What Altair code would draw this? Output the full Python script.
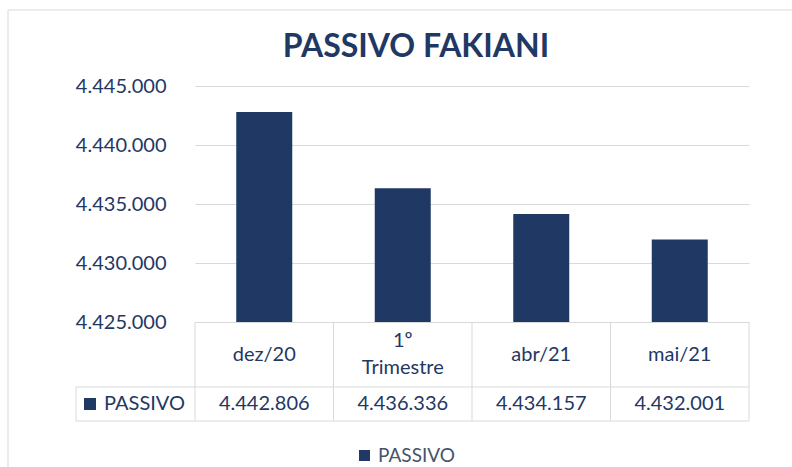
import altair as alt
import pandas as pd

# ---- data ----
categories = ["dez/20", "1º Trimestre", "abr/21", "mai/21"]
cat_labels = ["dez/20", "1º\nTrimestre", "abr/21", "mai/21"]
values = [4442806, 4436336, 4434157, 4432001]
series_name = "PASSIVO"
y_ticks = [4425000, 4430000, 4435000, 4440000, 4445000]
y_min, y_max = 4425000, 4445000


def br(n):
    return f"{n:,}".replace(",", ".")


df = pd.DataFrame({
    "cat": categories,
    "label": cat_labels,
    "value": values,
    "value_txt": [br(v) for v in values],
    "series": [series_name] * len(categories),
})
one = pd.DataFrame({"series": [series_name]})

# ---- layout / style ----
W, H = 554, 236
NAVY = "#1f3864"
GRID = "#d9d9d9"
FONT = "Lato"
ROW1_Y = H + 65     # bottom of category row
ROW2_Y = H + 99     # bottom of value row
HDR_X = -119        # left edge of row-header cell

xenc = alt.X("cat:N", sort=categories,
             scale=alt.Scale(paddingInner=0, paddingOuter=0), axis=None)

base = alt.Chart(df)

bars = base.mark_bar(size=56, color=NAVY).encode(
    x=xenc,
    y=alt.Y("value:Q",
            scale=alt.Scale(domain=[y_min, y_max], zero=False, nice=False),
            axis=alt.Axis(values=y_ticks,
                          labelExpr="replace(format(datum.value, ','), regexp(',', 'g'), '.')",
                          title=None, domain=False, ticks=False, grid=True,
                          gridColor=GRID, gridWidth=1, labelPadding=29,
                          labelFontSize=20, labelColor=NAVY, labelFont=FONT)),
    y2=alt.datum(y_min),
    color=alt.Color("series:N", scale=alt.Scale(range=[NAVY]),
                    legend=alt.Legend(orient="none", legendX=160, legendY=360,
                                      title=None, symbolType="square",
                                      symbolSize=121, symbolStrokeWidth=0,
                                      labelFontSize=19, labelColor="#44546a",
                                      labelFont=FONT, direction="horizontal")),
)

# table grid
vlines = base.mark_rule(color=GRID).encode(
    x=alt.X("cat:N", sort=categories, bandPosition=0, axis=None),
    y=alt.value(H), y2=alt.value(ROW2_Y))
vline_right = alt.Chart(one).mark_rule(color=GRID).encode(
    x=alt.value(W), y=alt.value(H), y2=alt.value(ROW2_Y))
vline_hdr = alt.Chart(one).mark_rule(color=GRID).encode(
    x=alt.value(HDR_X), y=alt.value(ROW1_Y), y2=alt.value(ROW2_Y))
hline1 = alt.Chart(one).mark_rule(color=GRID).encode(
    x=alt.value(HDR_X), x2=alt.value(W), y=alt.value(ROW1_Y))
hline2 = alt.Chart(one).mark_rule(color=GRID).encode(
    x=alt.value(HDR_X), x2=alt.value(W), y=alt.value(ROW2_Y))

# outer chart border (top and left)
border_top = alt.Chart(one).mark_rule(color=GRID).encode(
    x=alt.value(-187), x2=alt.value(W + 60), y=alt.value(-76))
border_left = alt.Chart(one).mark_rule(color=GRID).encode(
    x=alt.value(-187), y=alt.value(-76), y2=alt.value(H + 150))

# table text
txt = dict(font=FONT, fontSize=20, color=NAVY, baseline="middle")
cat_text1 = base.transform_filter("indexof(datum.label, '\\n') < 0").mark_text(**txt).encode(
    x=xenc, y=alt.value(H + 33), text="label:N")
cat_text2 = base.transform_filter("indexof(datum.label, '\\n') >= 0").mark_text(
    lineBreak="\n", lineHeight=27, **txt).encode(
    x=xenc, y=alt.value(H + 19), text="label:N")
val_text = base.mark_text(**txt).encode(
    x=xenc, y=alt.value(H + 82), text="value_txt:N")
hdr_sq = alt.Chart(one).mark_square(size=144, color=NAVY, opacity=1).encode(
    x=alt.value(-105), y=alt.value(H + 82))
hdr_text = alt.Chart(one).mark_text(align="left", **txt).encode(
    x=alt.value(-91), y=alt.value(H + 82), text="series:N")

chart = alt.layer(
    border_top, border_left, vlines, vline_right, vline_hdr, hline1, hline2,
    bars, cat_text1, cat_text2, val_text, hdr_sq, hdr_text,
).properties(
    width=W, height=H,
    title=alt.TitleParams("PASSIVO FAKIANI", font=FONT, fontSize=32,
                          fontWeight="bold", color=NAVY, anchor="middle",
                          frame="group", dx=-56, offset=-54),
    padding={"left": 195, "top": 86, "right": 43, "bottom": 145},
    autosize=alt.AutoSizeParams(type="none"),
    background="white",
).configure_view(stroke=None)

chart.save("out.html", embed_options={"renderer": "svg", "actions": False})
